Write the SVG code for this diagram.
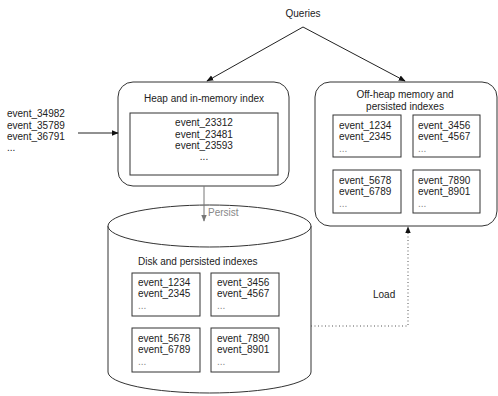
<svg xmlns="http://www.w3.org/2000/svg" width="498" height="396" viewBox="0 0 498 396">
<defs>
<style>
text{font-family:"Liberation Sans",Arial,sans-serif;font-size:10px;fill:#222}
.c{text-anchor:middle}
.box{fill:#fff;stroke:#333;stroke-width:1}
.edge{fill:none;stroke:#222;stroke-width:1}
.gray{fill:#888}
</style>
<marker id="ah" viewBox="0 0 10 10" refX="9" refY="5" markerWidth="7" markerHeight="7" orient="auto" markerUnits="userSpaceOnUse">
<path d="M0,1 L10,5 L0,9 z" fill="#111"/>
</marker>
<marker id="ahg" viewBox="0 0 10 10" refX="9" refY="5" markerWidth="7" markerHeight="7" orient="auto" markerUnits="userSpaceOnUse">
<path d="M0,1 L10,5 L0,9 z" fill="#777"/>
</marker>
</defs>
<rect width="498" height="396" fill="#fff"/>

<g id="queries"><text class="c" x="303" y="17">Queries</text></g>

<g id="incoming">
<text x="7" y="117">event_34982</text>
<text x="7" y="128.5">event_35789</text>
<text x="7" y="140">event_36791</text>
<text x="7" y="151">...</text>
</g>

<g id="heap">
<rect class="box" x="118" y="82" width="171" height="104" rx="15"/>
<text class="c" x="204" y="102">Heap and in-memory index</text>
<rect class="box" x="130" y="113" width="148" height="62" rx="0"/>
<text class="c" x="204" y="126">event_23312</text>
<text class="c" x="204" y="137.5">event_23481</text>
<text class="c" x="204" y="149">event_23593</text>
<text class="c" x="204" y="160">...</text>
</g>

<g id="offheap">
<rect class="box" x="315" y="82" width="182" height="144" rx="15"/>
<text class="c" x="405" y="98">Off-heap memory and</text>
<text class="c" x="405" y="109.5">persisted indexes</text>
<rect class="box" x="333" y="115" width="68" height="42"/>
<rect class="box" x="413" y="115" width="67" height="42"/>
<rect class="box" x="333" y="170" width="68" height="43"/>
<rect class="box" x="413" y="170" width="67" height="43"/>
<text x="339" y="128.5">event_1234</text>
<text x="339" y="140">event_2345</text>
<text x="339" y="152" class="gray">...</text>
<text x="418" y="128.5">event_3456</text>
<text x="418" y="140">event_4567</text>
<text x="418" y="152" class="gray">...</text>
<text x="339" y="184">event_5678</text>
<text x="339" y="195">event_6789</text>
<text x="339" y="207" class="gray">...</text>
<text x="418" y="184">event_7890</text>
<text x="418" y="195">event_8901</text>
<text x="418" y="207" class="gray">...</text>
</g>

<g id="disk">
<path d="M108,226 L108,372 A101.5,21 0 0 0 311,372 L311,226" fill="#fff" stroke="#333" stroke-width="1"/>
<ellipse cx="209.5" cy="226" rx="101.5" ry="21" fill="#fff" stroke="#333" stroke-width="1"/>
<text x="138" y="264.5">Disk and persisted indexes</text>
<rect class="box" x="132" y="273" width="68" height="43"/>
<rect class="box" x="211" y="273" width="68" height="43"/>
<rect class="box" x="132" y="328" width="68" height="44"/>
<rect class="box" x="211" y="328" width="68" height="44"/>
<text x="138" y="286">event_1234</text>
<text x="138" y="297">event_2345</text>
<text x="138" y="309" class="gray">...</text>
<text x="217" y="286">event_3456</text>
<text x="217" y="297">event_4567</text>
<text x="217" y="309" class="gray">...</text>
<text x="138" y="342">event_5678</text>
<text x="138" y="353">event_6789</text>
<text x="138" y="365" class="gray">...</text>
<text x="217" y="342">event_7890</text>
<text x="217" y="353">event_8901</text>
<text x="217" y="365" class="gray">...</text>
</g>

<g id="connectors">
<path class="edge" d="M303,27 L207,81" marker-end="url(#ah)"/>
<path class="edge" d="M303,27 L405,81" marker-end="url(#ah)"/>
<path class="edge" d="M78,133 L118,133" marker-end="url(#ah)"/>
<path d="M204,186 L204,221" fill="none" stroke="#777" stroke-width="1" marker-end="url(#ahg)"/>
<text x="208" y="216" class="gray">Persist</text>
<path d="M311,326 L408,326 L408,227" fill="none" stroke="#555" stroke-width="1" stroke-dasharray="1,2.5" marker-end="url(#ah)"/>
<text x="373" y="298">Load</text>
</g>
</svg>
